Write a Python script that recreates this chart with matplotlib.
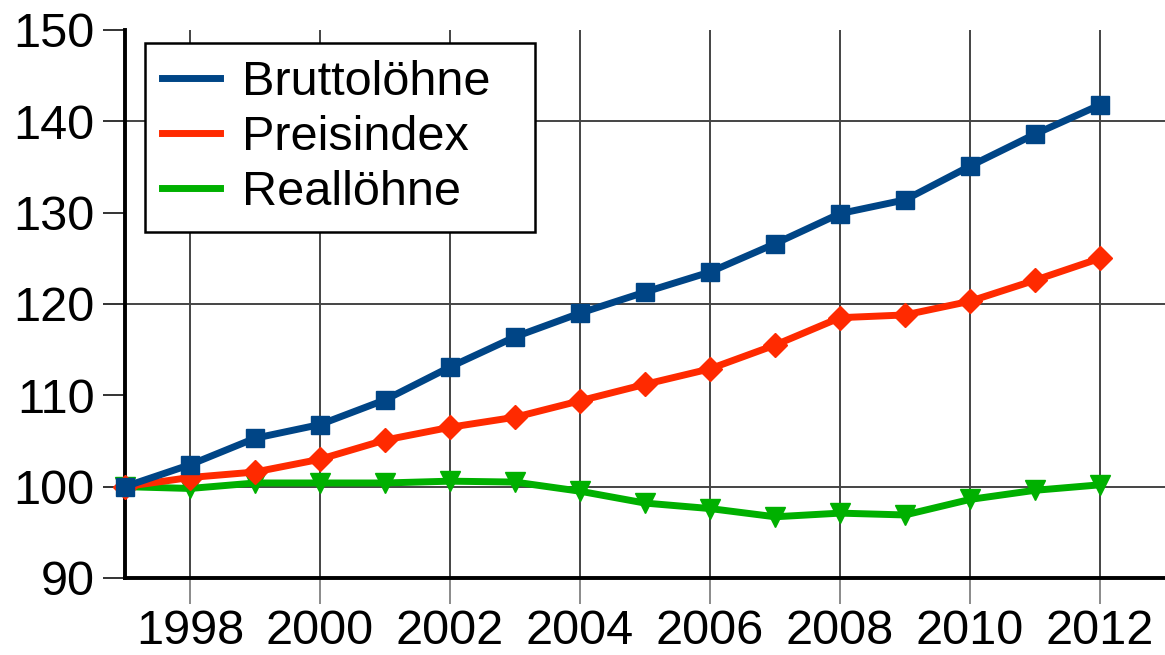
#!/usr/bin/env python3
"""Bruttolöhne, Preisindex und Reallöhne 1997-2012 (Index 1997 = 100)."""

import matplotlib

matplotlib.use("Agg")
import matplotlib.pyplot as plt
from matplotlib.lines import Line2D

YEARS = list(range(1997, 2013))
BRUTTOLOEHNE = [100.0, 102.4, 105.3, 106.8, 109.5, 113.1, 116.4, 119.0,
                121.3, 123.5, 126.6, 129.9, 131.4, 135.1, 138.6, 141.8]
PREISINDEX = [100.0, 101.0, 101.6, 103.0, 105.1, 106.5, 107.6, 109.4,
              111.2, 112.9, 115.5, 118.5, 118.8, 120.3, 122.6, 125.0]
REALLOEHNE = [100.0, 99.8, 100.4, 100.4, 100.4, 100.6, 100.5, 99.5,
              98.2, 97.6, 96.7, 97.1, 96.9, 98.6, 99.6, 100.2]
LABELS = ["Bruttolöhne", "Preisindex", "Reallöhne"]

X_TICKS = list(range(1998, 2013, 2))
Y_TICKS = list(range(90, 151, 10))
Y_GRID = [100, 120, 140]

BLUE = "#004586"
RED = "#ff2a00"
GREEN = "#00b000"
FONT_SIZE = 35


def main() -> None:
    plt.rcParams["font.family"] = ["Liberation Sans", "DejaVu Sans"]
    plt.rcParams["font.size"] = FONT_SIZE

    fig = plt.figure(figsize=(11.65, 6.55), dpi=100)
    fig.patch.set_facecolor("white")
    ax = fig.add_axes([0.1073, 0.1176, 0.8927, 0.8366])

    series = [
        (BRUTTOLOEHNE, BLUE, "s", 13, 5),
        (PREISINDEX, RED, "D", 12, 4),
        (REALLOEHNE, GREEN, "v", 15, 3),
    ]
    for (values, color, marker, msize, z), label in zip(series, LABELS):
        ax.plot(YEARS, values, color=color, linewidth=5, marker=marker,
                markersize=msize, markeredgecolor=color, label=label,
                zorder=z, clip_on=False)

    ax.set_xlim(1997, 2013)
    ax.set_ylim(90, 150)

    ax.set_xticks(X_TICKS)
    ax.set_yticks(Y_TICKS)
    ax.yaxis.remove_overlapping_locs = False
    ax.set_yticks(Y_GRID, minor=True)
    ax.tick_params(axis="x", which="major", direction="out", length=18.5,
                   width=1.2, color="#777777", labelsize=FONT_SIZE, pad=3.5)
    ax.tick_params(axis="y", which="major", direction="out", length=16,
                   width=1.4, color="#333333", labelsize=FONT_SIZE, pad=6)
    ax.tick_params(axis="y", which="minor", length=0)

    ax.xaxis.grid(True, which="major", color="#444444", linewidth=1.4)
    ax.yaxis.grid(True, which="minor", color="#444444", linewidth=1.4)
    ax.yaxis.grid(False, which="major")
    ax.set_axisbelow(True)

    for side in ["top", "right"]:
        ax.spines[side].set_visible(False)
    ax.spines["left"].set_linewidth(2.8)
    ax.spines["bottom"].set_linewidth(2.8)

    handles = [Line2D([0], [0], color=c, linewidth=5) for c in (BLUE, RED, GREEN)]
    leg = ax.legend(handles, LABELS, loc="upper left", mode="expand",
                    bbox_to_anchor=(0.0192, 0.976, 0.375, 0.0),
                    frameon=True, fancybox=False,
                    edgecolor="black", framealpha=1.0, fontsize=FONT_SIZE,
                    handlelength=1.2, handletextpad=0.45, labelspacing=0.2,
                    borderpad=0.35, borderaxespad=0.0)
    leg.get_frame().set_linewidth(1.8)
    leg.set_zorder(10)

    fig.savefig("out.png", dpi=100, facecolor="white")
    plt.close(fig)


if __name__ == "__main__":
    main()
